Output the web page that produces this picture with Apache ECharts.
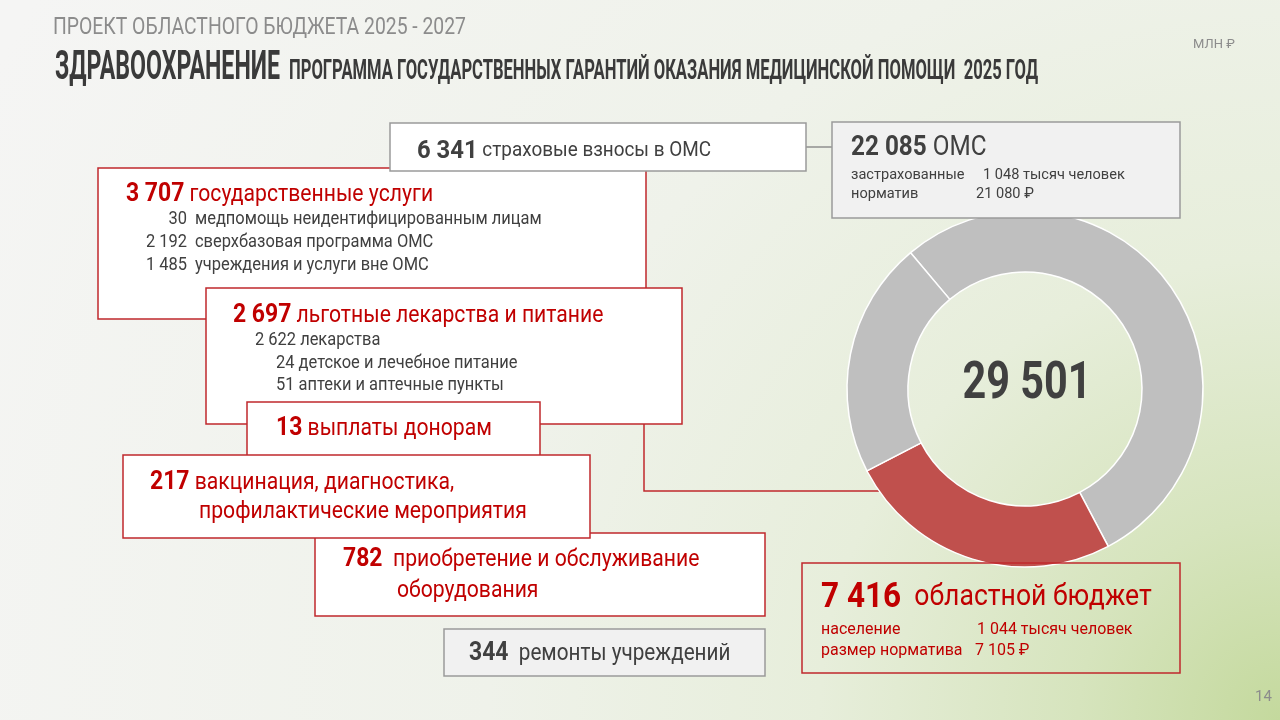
<!DOCTYPE html>
<html>
<head>
<meta charset="utf-8">
<script src="https://cdn.jsdelivr.net/npm/echarts@6/dist/echarts.min.js"></script>
<style>
html,body{margin:0;padding:0;width:1280px;height:720px;overflow:hidden;}
#chart{width:1280px;height:720px;}
</style>
</head>
<body>
<div id="chart"></div>
<script>
// ---- data ----
const sliceNames = ['ОМС (федеральная часть)', 'областной бюджет', 'страховые взносы в ОМС'];
const sliceValues = [15744, 7416, 6341];
const totalLabel = '29 501';

const headerTop = 'ПРОЕКТ ОБЛАСТНОГО БЮДЖЕТА 2025 - 2027';
const headerMain = 'ЗДРАВООХРАНЕНИЕ';
const headerSub = 'ПРОГРАММА ГОСУДАРСТВЕННЫХ ГАРАНТИЙ ОКАЗАНИЯ МЕДИЦИНСКОЙ ПОМОЩИ  2025 ГОД';
const unitLabel = 'МЛН ₽';
const pageNo = '14';

const omsHead = ['22 085', 'ОМС'];
const omsRows = [['застрахованные', '1 048 тысяч человек'], ['норматив', '21 080 ₽']];
const insHead = ['6 341', 'страховые взносы в ОМС'];
const stateHead = ['3 707', 'государственные услуги'];
const stateItems = [['30', 'медпомощь неидентифицированным лицам'], ['2 192', 'сверхбазовая программа ОМС'], ['1 485', 'учреждения и услуги вне ОМС']];
const drugHead = ['2 697', 'льготные лекарства и питание'];
const drugItems = ['2 622 лекарства', '24 детское и лечебное питание', '51 аптеки и аптечные пункты'];
const donorHead = ['13', 'выплаты донорам'];
const vacHead = ['217', 'вакцинация, диагностика,', 'профилактические мероприятия'];
const equipHead = ['782', 'приобретение и обслуживание', 'оборудования'];
const repairHead = ['344', 'ремонты учреждений'];
const regHead = ['7 416', 'областной бюджет'];
const regRows = [['население', '1 044 тысяч человек'], ['размер норматива', '7 105 ₽']];

// ---- styles ----
const RED = '#c00000';
const BORDER_RED = '#c0282d';
const DARK = '#404040';
const GREY = '#8c8c8c';
const FONT = 'Roboto, "Liberation Sans", sans-serif';
const CND = 0.9;   // horizontal condensing of the body font
const DY = 2;      // vertical nudge of body text

const chart = echarts.init(document.getElementById('chart'), null, {renderer: 'canvas'});

const mctx = document.createElement('canvas').getContext('2d');
function fitScale(text, font, target) {
  mctx.font = font;
  return target / mctx.measureText(text).width;
}

function box(x, y, w, h, fill, stroke, z) {
  return {type: 'rect', z: z, shape: {x: x, y: y, width: w, height: h},
    style: {fill: fill, stroke: stroke, lineWidth: 1.5}};
}
function txt(x, y, text, size, color, weight, z, align, sx) {
  return {type: 'text', z: z, x: x, y: y + DY, scaleX: sx || CND,
    style: {text: text, fontSize: size, fontWeight: weight || 'normal', fill: color, fontFamily: FONT,
      textAlign: align || 'left', textVerticalAlign: 'middle'}};
}
function rich(x, y, b, r, bs, rs, color, z, gap) {
  return {type: 'text', z: z, x: x, y: y + DY, scaleX: CND,
    style: {text: '{b|' + b + '}' + (gap || ' ') + '{r|' + r + '}', fontFamily: FONT, fill: color,
      textVerticalAlign: 'middle', fontSize: rs,
      rich: {b: {fontSize: bs, fontWeight: 'bold', fill: color, fontFamily: FONT},
             r: {fontSize: rs, fill: color, fontFamily: FONT}}}};
}

const g = [];
// background
g.push({type: 'rect', z: -10, silent: true, shape: {x: 0, y: 0, width: 1280, height: 720},
  style: {fill: new echarts.graphic.RadialGradient(1, 1, 2, [
    {offset: 0, color: '#c4d99d'},
    {offset: 0.14, color: '#d6e4bd'},
    {offset: 0.32, color: '#e7eedb'},
    {offset: 0.55, color: '#eff2ea'},
    {offset: 1, color: '#f5f5f4'}])}});

// header
const f1 = 'normal 24px Roboto';
g.push({type: 'text', x: 53, y: 28, scaleX: fitScale(headerTop, f1, 413),
  style: {text: headerTop, font: f1, fill: GREY, textVerticalAlign: 'middle'}});
const f2 = 'bold 40px Roboto';
g.push({type: 'text', x: 55, y: 69, scaleX: fitScale(headerMain, f2, 225),
  style: {text: headerMain, font: f2, fill: '#3a3a3a', textVerticalAlign: 'middle'}});
const f3 = 'bold 27px Roboto';
g.push({type: 'text', x: 289, y: 72, scaleX: fitScale(headerSub, f3, 749),
  style: {text: headerSub, font: f3, fill: '#3a3a3a', textVerticalAlign: 'middle'}});
g.push(txt(1193, 43, unitLabel, 13, GREY, 'normal', 1, 'left', 1));
g.push(txt(1255, 695, pageNo, 15, GREY, 'normal', 1, 'left', 1));

// connectors
g.push({type: 'polyline', z: 0, shape: {points: [[644, 171], [644, 491], [880, 491]]},
  style: {stroke: BORDER_RED, lineWidth: 1.5, fill: null}});
g.push({type: 'line', z: 0, shape: {x1: 806, y1: 147, x2: 832, y2: 147},
  style: {stroke: '#8f8f8f', lineWidth: 1.5}});

// 3707 state services
g.push(box(98, 168, 548, 151, '#ffffff', BORDER_RED, 1));
g.push(rich(126, 193, stateHead[0], stateHead[1], 25.5, 23.5, RED, 2));
stateItems.forEach(function (it, i) {
  g.push(txt(187, 218 + i * 23, it[0], 17.5, DARK, 'normal', 2, 'right', 0.94));
  g.push(txt(195, 218 + i * 23, it[1], 17.5, DARK, 'normal', 2, 'left', 0.94));
});

// 6341 insurance
g.push(box(390, 123, 416, 48, '#ffffff', '#9a9a9a', 3));
g.push(rich(417, 149, insHead[0], insHead[1], 26.5, 21, DARK, 4));

// OMS total
g.push(box(832, 122, 348, 96, '#f1f1f1', '#9a9a9a', 3));
g.push(rich(851, 146, omsHead[0], omsHead[1], 27, 27, DARK, 4));
omsRows.forEach(function (r, i) {
  g.push(txt(851, 173 + i * 19, r[0], 15.5, DARK, 'normal', 4, 'left', 0.94));
  g.push(txt(i === 0 ? 983 : 976, 173 + i * 19, r[1], 15.5, DARK, 'normal', 4, 'left', 0.94));
});

// 2697 drugs
g.push(box(206, 288, 476, 136, '#ffffff', BORDER_RED, 5));
g.push(rich(233, 314, drugHead[0], drugHead[1], 25.5, 23.5, RED, 6));
drugItems.forEach(function (t, i) {
  g.push(txt(i === 0 ? 255 : 276, 339 + i * 22.5, t, 17.5, DARK, 'normal', 6, 'left', 0.94));
});

// 13 donors
g.push(box(247, 402, 293, 54, '#ffffff', BORDER_RED, 7));
g.push(rich(276, 427, donorHead[0], donorHead[1], 25.5, 23.5, RED, 8));

// 782 equipment
g.push(box(315, 533, 450, 83, '#ffffff', BORDER_RED, 7));
g.push(rich(343, 558, equipHead[0], equipHead[1], 25.5, 23.5, RED, 8, '  '));
g.push(txt(397, 589, equipHead[2], 23.5, RED, 'normal', 8));

// 217 vaccination
g.push(box(123, 455, 467, 83, '#ffffff', BORDER_RED, 9));
g.push(rich(150, 481, vacHead[0], vacHead[1], 25.5, 23.5, RED, 10));
g.push(txt(199, 510, vacHead[2], 23.5, RED, 'normal', 10));

// 344 repairs
g.push(box(444, 629, 321, 47, '#f1f1f1', '#9a9a9a', 9));
g.push(rich(469, 652, repairHead[0], repairHead[1], 25.5, 23, DARK, 10, '  '));

// 7416 regional budget
g.push(box(802, 563, 378, 110, null, BORDER_RED, 9));
g.push(rich(821, 596, regHead[0], regHead[1], 35, 29.5, RED, 10, '  '));
regRows.forEach(function (r, i) {
  g.push(txt(821, 628 + i * 21, r[0], 17, RED, 'normal', 10, 'left', 0.94));
  g.push(txt(i === 0 ? 977 : 975, 628 + i * 21, r[1], 17, RED, 'normal', 10, 'left', 0.94));
});

// donut center total
const f4 = 'bold 52px Roboto';
g.push({type: 'text', z: 10, x: 1027, y: 385, scaleX: fitScale(totalLabel, f4, 129),
  style: {text: totalLabel, font: f4, fill: DARK, textAlign: 'center', textVerticalAlign: 'middle'}});

const sliceColors = ['#bfbfbf', '#c0504d', '#bfbfbf'];

chart.setOption({
  animation: false,
  graphic: g,
  series: [{
    type: 'pie',
    center: [1025, 389],
    radius: [117, 178],
    startAngle: 130,
    clockwise: true,
    label: {show: false},
    labelLine: {show: false},
    emphasis: {disabled: true},
    itemStyle: {borderColor: '#ffffff', borderWidth: 1.5},
    data: sliceNames.map(function (n, i) {
      return {name: n, value: sliceValues[i], itemStyle: {color: sliceColors[i]}};
    })
  }]
});
</script>
</body>
</html>
